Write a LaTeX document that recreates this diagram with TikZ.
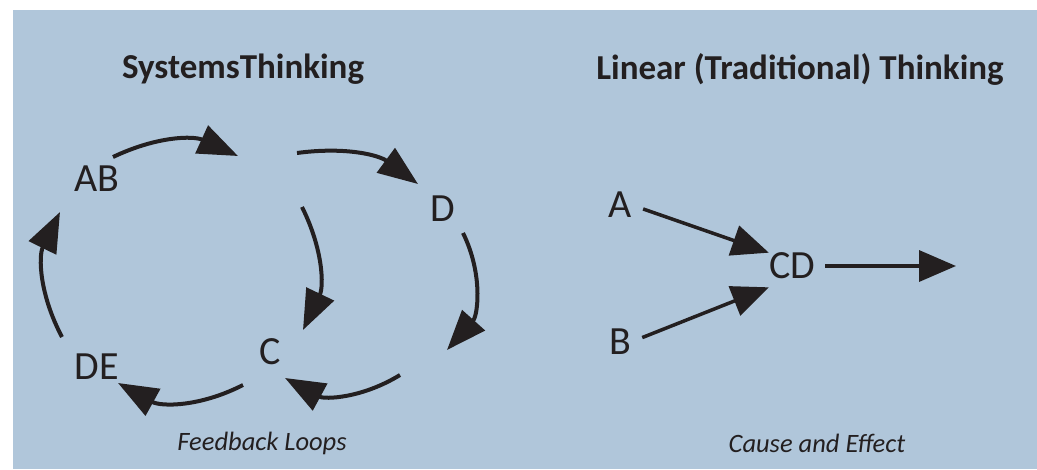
\documentclass[tikz,border=0pt]{standalone}
\usepackage{fontspec}
\setmainfont{Carlito}
\usepackage{xcolor}
\definecolor{panelblue}{RGB}{176,198,218}
\definecolor{inkblack}{RGB}{35,31,32}
\usetikzlibrary{arrows.meta,positioning}

\tikzset{
  lbl/.style={inkblack, inner sep=0pt, font=\fontsize{40}{48}\selectfont},
  heading/.style={inkblack, inner sep=0pt, font=\fontsize{35}{42}\selectfont\bfseries},
  capt/.style={inkblack, inner sep=0pt, font=\fontsize{26.5}{32}\selectfont\itshape},
  fbarrow/.style={inkblack, line width=4pt, -{Triangle[length=40pt,width=30pt]}, bend left=28},
  cause/.style={inkblack, line width=3.5pt, -{Triangle[length=37pt,width=31pt]}},
}

\begin{document}
\begin{tikzpicture}[x=1pt,y=-1pt]
    \useasboundingbox (0,0) rectangle (1037,469);
    \fill[white] (0,0) rectangle (1037,469);
    \fill[panelblue] (13,10) rectangle (1037,469);

    % Systems thinking: feedback loops
    \node[heading] (systitle) at (243,69) {SystemsThinking};
    \node[lbl] (ab) at (97,179) {AB};
    \node[lbl] (d) at (443,209) {D};
    \node[lbl] (c) at (270,352) {C};
    \node[lbl] (de) at (97,367) {DE};
    \node[capt] (loops) at (262,443) {Feedback Loops};

    % loop ends
    \coordinate (ab-out) at (113,157);
    \coordinate (gap-in) at (238,156);
    \coordinate (gap-out) at (297,153);
    \coordinate (d-in) at (418,184);
    \coordinate (mid-out) at (302,207);
    \coordinate (c-in) at (303,330);
    \coordinate (d-out) at (463,233);
    \coordinate (low-in) at (447,350);
    \coordinate (low-out) at (400,375);
    \coordinate (c-in2) at (285,378);
    \coordinate (c-out) at (243,385);
    \coordinate (de-in) at (118,383);
    \coordinate (de-out) at (62,337);
    \coordinate (ab-in) at (60,212);

    \draw[fbarrow, bend left=25] (ab-out) to (gap-in);
    \draw[fbarrow, bend left=22] (gap-out) to (d-in);
    \draw[fbarrow, bend left=26] (mid-out) to (c-in);
    \draw[fbarrow, bend left=34] (d-out) to (low-in);
    \draw[fbarrow, bend left=30] (low-out) to (c-in2);
    \draw[fbarrow, bend left=28] (c-out) to (de-in);
    \draw[fbarrow, bend left=27] (de-out) to (ab-in);

    % Linear thinking: cause and effect
    \node[heading] (lintitle) at (800,69) {Linear (Traditional) Thinking};
    \node[lbl] (a) at (620,205) {A};
    \node[lbl] (b) at (620,342) {B};
    \node[lbl] (cd) at (792,266) {CD};
    \node[capt] (effect) at (817,443) {Cause and Effect};
    \coordinate (effect-end) at (956,266);

    \draw[cause, shorten <=12pt] (a.east) -- (cd.north west);
    \draw[cause, shorten <=12pt] (b.east) -- ([yshift=-8pt]cd.south west);
    \draw[cause, shorten <=10pt] (cd.east) -- (effect-end);
\end{tikzpicture}
\end{document}
